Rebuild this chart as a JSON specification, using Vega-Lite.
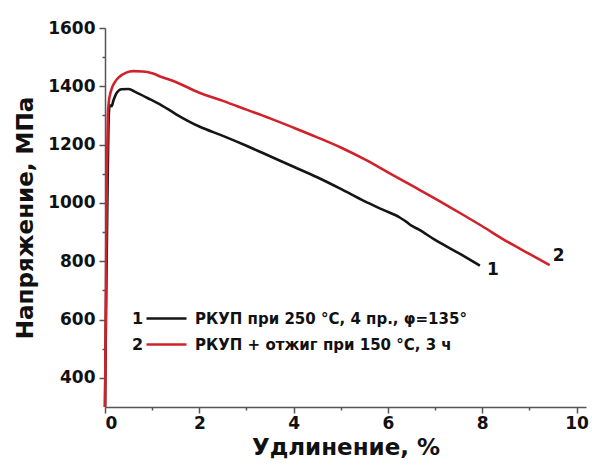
{
  "$schema": "https://vega.github.io/schema/vega-lite/v6.json",
  "width": 481,
  "height": 379,
  "autosize": {"type": "none"},
  "padding": {"left": 105, "top": 28, "right": 6, "bottom": 66},
  "background": "white",
  "config": {
    "view": {"stroke": null},
    "font": "DejaVu Sans",
    "axis": {
      "domainColor": "#555555",
      "domainWidth": 1.5,
      "tickColor": "#555555",
      "tickWidth": 1.5,
      "grid": false,
      "labelFont": "DejaVu Sans",
      "labelFontWeight": "bold",
      "labelFontSize": 17,
      "labelColor": "#111111",
      "titleFont": "DejaVu Sans",
      "titleFontWeight": "bold",
      "titleFontSize": 23,
      "titleColor": "#111111"
    },
    "legend": {
      "labelFont": "DejaVu Sans",
      "labelFontWeight": "bold",
      "labelFontSize": 15,
      "labelColor": "#111111",
      "labelLimit": 0,
      "padding": 0,
      "offset": 0
    }
  },
  "data": {
    "values": [
      {"series": "РКУП при 250 °C, 4 пр., φ=135°", "num": "1", "x": 0, "y": 300},
      {"series": "РКУП при 250 °C, 4 пр., φ=135°", "num": "1", "x": 0.02, "y": 600},
      {"series": "РКУП при 250 °C, 4 пр., φ=135°", "num": "1", "x": 0.05, "y": 1000},
      {"series": "РКУП при 250 °C, 4 пр., φ=135°", "num": "1", "x": 0.08, "y": 1300},
      {"series": "РКУП при 250 °C, 4 пр., φ=135°", "num": "1", "x": 0.1, "y": 1335},
      {"series": "РКУП при 250 °C, 4 пр., φ=135°", "num": "1", "x": 0.14, "y": 1332},
      {"series": "РКУП при 250 °C, 4 пр., φ=135°", "num": "1", "x": 0.18, "y": 1352},
      {"series": "РКУП при 250 °C, 4 пр., φ=135°", "num": "1", "x": 0.25, "y": 1378},
      {"series": "РКУП при 250 °C, 4 пр., φ=135°", "num": "1", "x": 0.35, "y": 1390},
      {"series": "РКУП при 250 °C, 4 пр., φ=135°", "num": "1", "x": 0.5, "y": 1391},
      {"series": "РКУП при 250 °C, 4 пр., φ=135°", "num": "1", "x": 0.65, "y": 1380},
      {"series": "РКУП при 250 °C, 4 пр., φ=135°", "num": "1", "x": 0.9, "y": 1360},
      {"series": "РКУП при 250 °C, 4 пр., φ=135°", "num": "1", "x": 1.2, "y": 1335},
      {"series": "РКУП при 250 °C, 4 пр., φ=135°", "num": "1", "x": 1.5, "y": 1305},
      {"series": "РКУП при 250 °C, 4 пр., φ=135°", "num": "1", "x": 2.0, "y": 1262},
      {"series": "РКУП при 250 °C, 4 пр., φ=135°", "num": "1", "x": 2.5, "y": 1230},
      {"series": "РКУП при 250 °C, 4 пр., φ=135°", "num": "1", "x": 3.0, "y": 1196},
      {"series": "РКУП при 250 °C, 4 пр., φ=135°", "num": "1", "x": 3.5, "y": 1160},
      {"series": "РКУП при 250 °C, 4 пр., φ=135°", "num": "1", "x": 4.0, "y": 1124},
      {"series": "РКУП при 250 °C, 4 пр., φ=135°", "num": "1", "x": 4.5, "y": 1088},
      {"series": "РКУП при 250 °C, 4 пр., φ=135°", "num": "1", "x": 5.0, "y": 1048},
      {"series": "РКУП при 250 °C, 4 пр., φ=135°", "num": "1", "x": 5.5, "y": 1006},
      {"series": "РКУП при 250 °C, 4 пр., φ=135°", "num": "1", "x": 5.9, "y": 976},
      {"series": "РКУП при 250 °C, 4 пр., φ=135°", "num": "1", "x": 6.25, "y": 950},
      {"series": "РКУП при 250 °C, 4 пр., φ=135°", "num": "1", "x": 6.4, "y": 934},
      {"series": "РКУП при 250 °C, 4 пр., φ=135°", "num": "1", "x": 6.5, "y": 922},
      {"series": "РКУП при 250 °C, 4 пр., φ=135°", "num": "1", "x": 6.65, "y": 909},
      {"series": "РКУП при 250 °C, 4 пр., φ=135°", "num": "1", "x": 7.0, "y": 873},
      {"series": "РКУП при 250 °C, 4 пр., φ=135°", "num": "1", "x": 7.5, "y": 828},
      {"series": "РКУП при 250 °C, 4 пр., φ=135°", "num": "1", "x": 7.95, "y": 785},
      {"series": "РКУП + отжиг при 150 °C, 3 ч", "num": "2", "x": 0, "y": 300},
      {"series": "РКУП + отжиг при 150 °C, 3 ч", "num": "2", "x": 0.02, "y": 700},
      {"series": "РКУП + отжиг при 150 °C, 3 ч", "num": "2", "x": 0.04, "y": 1100},
      {"series": "РКУП + отжиг при 150 °C, 3 ч", "num": "2", "x": 0.06, "y": 1300},
      {"series": "РКУП + отжиг при 150 °C, 3 ч", "num": "2", "x": 0.08, "y": 1345},
      {"series": "РКУП + отжиг при 150 °C, 3 ч", "num": "2", "x": 0.12, "y": 1380},
      {"series": "РКУП + отжиг при 150 °C, 3 ч", "num": "2", "x": 0.2, "y": 1412},
      {"series": "РКУП + отжиг при 150 °C, 3 ч", "num": "2", "x": 0.3, "y": 1432},
      {"series": "РКУП + отжиг при 150 °C, 3 ч", "num": "2", "x": 0.45, "y": 1447},
      {"series": "РКУП + отжиг при 150 °C, 3 ч", "num": "2", "x": 0.6, "y": 1452},
      {"series": "РКУП + отжиг при 150 °C, 3 ч", "num": "2", "x": 0.8, "y": 1451},
      {"series": "РКУП + отжиг при 150 °C, 3 ч", "num": "2", "x": 1.0, "y": 1445},
      {"series": "РКУП + отжиг при 150 °C, 3 ч", "num": "2", "x": 1.2, "y": 1432},
      {"series": "РКУП + отжиг при 150 °C, 3 ч", "num": "2", "x": 1.5, "y": 1415},
      {"series": "РКУП + отжиг при 150 °C, 3 ч", "num": "2", "x": 2.0, "y": 1378},
      {"series": "РКУП + отжиг при 150 °C, 3 ч", "num": "2", "x": 2.5, "y": 1350},
      {"series": "РКУП + отжиг при 150 °C, 3 ч", "num": "2", "x": 3.0, "y": 1320},
      {"series": "РКУП + отжиг при 150 °C, 3 ч", "num": "2", "x": 3.5, "y": 1290},
      {"series": "РКУП + отжиг при 150 °C, 3 ч", "num": "2", "x": 4.0, "y": 1258},
      {"series": "РКУП + отжиг при 150 °C, 3 ч", "num": "2", "x": 4.5, "y": 1225},
      {"series": "РКУП + отжиг при 150 °C, 3 ч", "num": "2", "x": 5.0, "y": 1190},
      {"series": "РКУП + отжиг при 150 °C, 3 ч", "num": "2", "x": 5.5, "y": 1150},
      {"series": "РКУП + отжиг при 150 °C, 3 ч", "num": "2", "x": 6.0, "y": 1105},
      {"series": "РКУП + отжиг при 150 °C, 3 ч", "num": "2", "x": 6.5, "y": 1060},
      {"series": "РКУП + отжиг при 150 °C, 3 ч", "num": "2", "x": 7.0, "y": 1015},
      {"series": "РКУП + отжиг при 150 °C, 3 ч", "num": "2", "x": 7.5, "y": 968},
      {"series": "РКУП + отжиг при 150 °C, 3 ч", "num": "2", "x": 8.0, "y": 920},
      {"series": "РКУП + отжиг при 150 °C, 3 ч", "num": "2", "x": 8.5, "y": 870},
      {"series": "РКУП + отжиг при 150 °C, 3 ч", "num": "2", "x": 9.0, "y": 825},
      {"series": "РКУП + отжиг при 150 °C, 3 ч", "num": "2", "x": 9.43, "y": 787}
    ]
  },
  "encoding": {
    "x": {
      "field": "x",
      "type": "quantitative",
      "scale": {"domain": [0, 10.2], "nice": false, "zero": false},
      "axis": {
        "title": "Удлинение, %",
        "values": [0, 1, 2, 3, 4, 5, 6, 7, 8, 9, 10],
        "labelExpr": "datum.value % 2 === 0 ? datum.label : ''",
        "tickSize": {"condition": {"test": "datum.value % 2 === 0", "value": 6}, "value": 3},
        "labelPadding": 2,
        "titlePadding": 5
      }
    },
    "y": {
      "field": "y",
      "type": "quantitative",
      "scale": {"domain": [300, 1600], "nice": false, "zero": false},
      "axis": {
        "title": "Напряжение, МПа",
        "values": [400, 500, 600, 700, 800, 900, 1000, 1100, 1200, 1300, 1400, 1500, 1600],
        "labelExpr": "datum.value % 200 === 0 ? datum.value : ''",
        "tickSize": {"condition": {"test": "datum.value % 200 === 0", "value": 6}, "value": 3},
        "labelPadding": 4,
        "titlePadding": 10
      }
    }
  },
  "layer": [
    {
      "mark": {"type": "line", "strokeWidth": 2.6, "interpolate": "monotone"},
      "encoding": {
        "color": {
          "field": "series",
          "type": "nominal",
          "sort": null,
          "scale": {"range": ["#151515", "#d0222b"]},
          "legend": {
            "orient": "none",
            "legendX": 68,
            "legendY": 283,
            "title": null,
            "symbolType": "M-8.5,0H1.5",
            "symbolSize": 64,
            "symbolStrokeWidth": 2.6,
            "labelOffset": 7,
            "rowPadding": 10
          }
        },
        "opacity": {
          "field": "num",
          "type": "ordinal",
          "scale": {"range": [1, 1]},
          "legend": {
            "orient": "none",
            "legendX": 11,
            "legendY": 283,
            "title": null,
            "symbolType": "circle",
            "symbolOpacity": 0,
            "symbolSize": 0,
            "symbolStrokeWidth": 0,
            "symbolStrokeColor": "transparent",
            "symbolFillColor": "transparent",
            "labelOffset": 0,
            "labelFontSize": 16,
            "rowPadding": 10
          }
        },
        "detail": {"field": "series"}
      }
    },
    {
      "transform": [
        {"filter": "datum.num === '1'"},
        {"joinaggregate": [{"op": "max", "field": "x", "as": "xmax"}]},
        {"filter": "datum.x === datum.xmax"}
      ],
      "mark": {"type": "text", "align": "left", "baseline": "middle", "dx": 7, "dy": 4, "fontSize": 17, "fontWeight": "bold", "font": "DejaVu Sans", "color": "#111111"},
      "encoding": {"text": {"field": "num"}}
    },
    {
      "transform": [
        {"filter": "datum.num === '2'"},
        {"joinaggregate": [{"op": "max", "field": "x", "as": "xmax"}]},
        {"filter": "datum.x === datum.xmax"}
      ],
      "mark": {"type": "text", "align": "left", "baseline": "middle", "dx": 3, "dy": -9, "fontSize": 17, "fontWeight": "bold", "font": "DejaVu Sans", "color": "#111111"},
      "encoding": {"text": {"field": "num"}}
    }
  ]
}
